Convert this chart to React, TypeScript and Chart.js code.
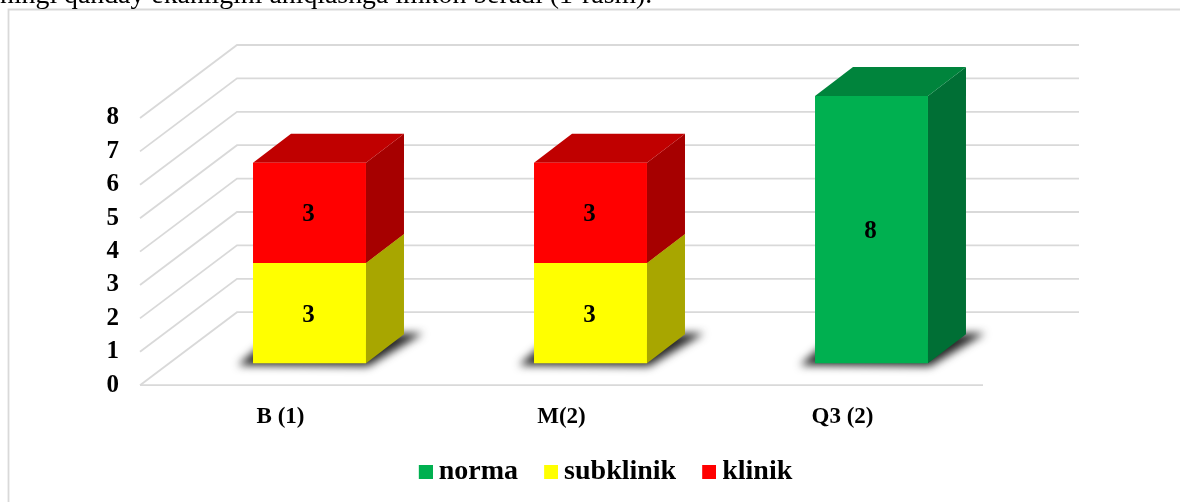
import React, { useEffect, useRef } from "react";
import { Chart, registerables } from "chart.js";

Chart.register(...registerables);

const categories = ["B (1)", "M(2)", "Q3 (2)"];
const norma = [null, null, 8];
const subklinik = [3, 3, null];
const klinik = [3, 3, null];
const yTicks = [0, 1, 2, 3, 4, 5, 6, 7, 8];
const captionText = "ningi qanday ekanligini aniqlashga imkon beradi (1-rasm).";

const FONT = '"Liberation Serif", "Times New Roman", serif';
const GRID = "#d9d9d9";
const WALL = { dx: 97, dy: -73 };
const BAR = { ox: 29, oy: -22, dx: 38, dy: -29 };

const faces: Record<string, { front: string; top: string; side: string }> = {
  norma: { front: "#00b050", top: "#00843c", side: "#006f35" },
  subklinik: { front: "#ffff00", top: "#bfbf00", side: "#a8a600" },
  klinik: { front: "#ff0000", top: "#c00000", side: "#a60000" },
};

function legendMark(color: string) {
  const c = document.createElement("canvas");
  c.width = 22;
  c.height = 14;
  const g = c.getContext("2d")!;
  g.fillStyle = color;
  g.fillRect(8, 0, 14, 14);
  return c;
}

function poly(ctx: CanvasRenderingContext2D, pts: number[][], fill: string) {
  ctx.fillStyle = fill;
  ctx.beginPath();
  pts.forEach((p, i) => (i ? ctx.lineTo(p[0], p[1]) : ctx.moveTo(p[0], p[1])));
  ctx.closePath();
  ctx.fill();
}

const scene3d = {
  id: "scene3d",
  afterLayout(chart: any) {
    const lg = chart.legend;
    lg.top -= 6;
    lg.bottom -= 6;
    lg.left += 114;
    lg.right += 114;
  },
  beforeDraw(chart: any) {
    const { ctx, width, height } = chart;
    ctx.save();
    ctx.fillStyle = "#ffffff";
    ctx.fillRect(0, 0, width, height);
    ctx.strokeStyle = GRID;
    ctx.lineWidth = 1.8;
    ctx.beginPath();
    ctx.moveTo(8.5, height);
    ctx.lineTo(8.5, 9.5);
    ctx.lineTo(width, 9.5);
    ctx.stroke();
    ctx.fillStyle = "#000000";
    ctx.font = `27.8px ${FONT}`;
    ctx.textBaseline = "alphabetic";
    ctx.textAlign = "left";
    ctx.fillText(captionText, 0, 2.5);
    ctx.restore();
  },
  beforeDatasetsDraw(chart: any) {
    const { ctx, chartArea, scales } = chart;
    const y = scales.y;
    ctx.save();
    ctx.strokeStyle = GRID;
    ctx.lineWidth = 1.8;
    yTicks.forEach((v) => {
      const py = y.getPixelForValue(v);
      ctx.beginPath();
      ctx.moveTo(chartArea.left, py);
      ctx.lineTo(chartArea.left + WALL.dx, py + WALL.dy);
      ctx.lineTo(chartArea.right + WALL.dx - 1, py + WALL.dy);
      ctx.stroke();
    });
    const base = y.getPixelForValue(0);
    ctx.beginPath();
    ctx.moveTo(chartArea.left, base);
    ctx.lineTo(chartArea.right, base);
    ctx.stroke();

    const bottoms: any[] = [];
    chart.data.datasets.forEach((_: any, i: number) => {
      chart.getDatasetMeta(i).data.forEach((el: any, j: number) => {
        if (chart.data.datasets[i].data[j] == null) return;
        if (!bottoms[j]) bottoms[j] = el;
      });
    });
    ctx.filter = "blur(4px)";
    bottoms.forEach((el) => {
      if (!el) return;
      const l = el.x - el.width / 2 + BAR.ox;
      const r = el.x + el.width / 2 + BAR.ox;
      const b = el.base + BAR.oy;
      poly(ctx, [
        [l - 15, b + 2],
        [l + 8, b - 18],
        [r + BAR.dx, b + BAR.dy - 1],
        [r + BAR.dx + 19, b + BAR.dy - 1],
        [r + 2, b + 3],
      ], "rgba(25,25,25,0.95)");
    });
    ctx.filter = "none";

    chart.data.datasets.forEach((ds: any, i: number) => {
      const f = faces[ds.label];
      chart.getDatasetMeta(i).data.forEach((el: any, j: number) => {
        if (ds.data[j] == null) return;
        const l = el.x - el.width / 2 + BAR.ox;
        const r = el.x + el.width / 2 + BAR.ox;
        const t = el.y + BAR.oy;
        const b = el.base + BAR.oy;
        poly(ctx, [[r, b], [r + BAR.dx, b + BAR.dy], [r + BAR.dx, t + BAR.dy], [r, t]], f.side);
        poly(ctx, [[l, t], [l + BAR.dx, t + BAR.dy], [r + BAR.dx, t + BAR.dy], [r, t]], f.top);
      });
    });
    ctx.restore();
    ctx.save();
    ctx.translate(BAR.ox, BAR.oy);
  },
  afterDatasetsDraw(chart: any) {
    const { ctx } = chart;
    ctx.restore();
    ctx.save();
    ctx.fillStyle = "#000000";
    ctx.font = `bold 25px ${FONT}`;
    ctx.textAlign = "center";
    ctx.textBaseline = "middle";
    chart.data.datasets.forEach((ds: any, i: number) => {
      chart.getDatasetMeta(i).data.forEach((el: any, j: number) => {
        if (ds.data[j] == null) return;
        ctx.fillText(String(ds.data[j]), el.x + BAR.ox - 1, (el.y + el.base) / 2 + BAR.oy + 2);
      });
    });
    ctx.restore();
  },
};

export default function App() {
  const ref = useRef<HTMLCanvasElement>(null);
  useEffect(() => {
    const names = ["norma", "subklinik", "klinik"];
    const values = [norma, subklinik, klinik];
    const marks = names.map((n) => legendMark(faces[n].front));
    const chart = new Chart(ref.current!, {
      type: "bar",
      data: {
        labels: categories,
        datasets: names.map((n, i) => ({
          label: n,
          data: values[i],
          backgroundColor: faces[n].front,
          categoryPercentage: 1,
          barPercentage: 0.402,
          borderWidth: 0,
          clip: false,
        })),
      } as any,
      options: {
        responsive: false,
        animation: false,
        layout: { padding: { top: 118, right: 197, left: 0, bottom: 0 } },
        scales: {
          x: {
            stacked: true,
            grid: { display: false, drawTicks: false },
            border: { display: false },
            ticks: { color: "#000", font: { family: FONT, size: 23, weight: "bold" }, padding: 18, maxRotation: 0 },
            afterFit: (s: any) => { s.height = 52.8; },
          },
          y: {
            stacked: true,
            min: 0,
            max: 8,
            grid: { display: false, drawTicks: false },
            border: { display: false },
            ticks: { color: "#000", font: { family: FONT, size: 25, weight: "bold" }, padding: 21, stepSize: 1 },
            afterFit: (s: any) => { s.width = 140; },
          },
        },
        plugins: {
          tooltip: { enabled: false },
          legend: {
            position: "bottom",
            labels: {
              color: "#000",
              font: { family: FONT, size: 28, weight: "bold" },
              usePointStyle: true,
              pointStyleWidth: 6,
              boxHeight: 14,
              padding: 26,
              generateLabels: (c: any) =>
                (Chart.defaults.plugins.legend.labels as any).generateLabels(c).map((it: any, i: number) => ({
                  ...it,
                  pointStyle: marks[i],
                })),
            },
          },
        },
      } as any,
      plugins: [scene3d],
    });
    return () => chart.destroy();
  }, []);
  return (
    <canvas
      ref={ref}
      width={1180}
      height={502}
      style={{ position: "fixed", left: 0, top: 0, display: "block", width: 1180, height: 502 }}
    />
  );
}
